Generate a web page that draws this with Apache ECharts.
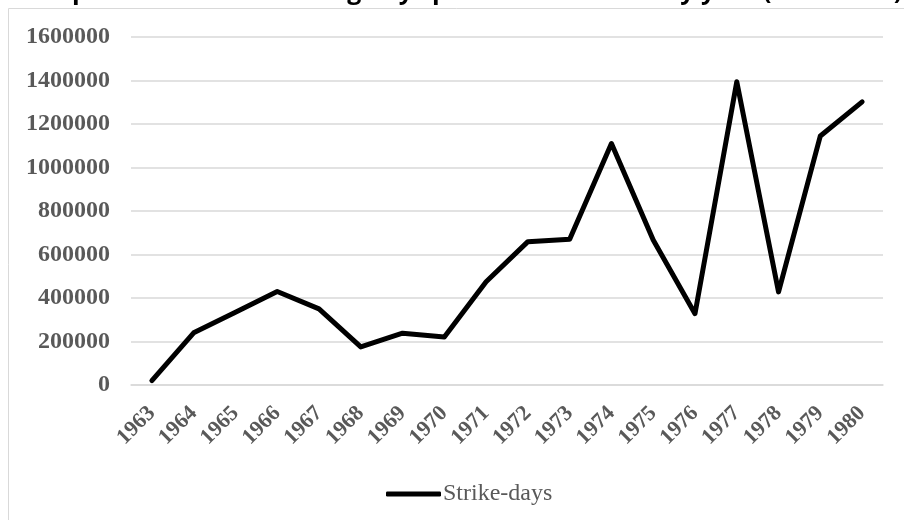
<!DOCTYPE html>
<html lang="en">

<head>
    <meta charset="UTF-8">
    <title>Strike-days</title>
    <script src="https://cdn.jsdelivr.net/npm/echarts@6/dist/echarts.min.js"></script>
    <style>
        html, body {
            margin: 0;
            padding: 0;
            background: #fff;
        }
        #chart {
            width: 904px;
            height: 520px;
        }
    </style>
</head>

<body>
    <div id="chart"></div>

    <script>
        var years = ['1963', '1964', '1965', '1966', '1967', '1968', '1969', '1970', '1971',
            '1972', '1973', '1974', '1975', '1976', '1977', '1978', '1979', '1980'];
        var strikeDays = [20000, 240000, 335000, 430000, 350000, 175000, 238000, 221000, 475000,
            659000, 670000, 1110000, 667000, 328000, 1394000, 428000, 1145000, 1302000];
        var yTicks = [0, 1600000, 200000]; // min, max, interval

        var chart = echarts.init(document.getElementById('chart'));
        chart.setOption({
            animation: false,
            title: {
                text: 'Compiled total lost working days per annum shown by year (1963-1980)',
                left: 16,
                top: -20,
                padding: 0,
                textStyle: {
                    fontFamily: 'Open Sans',
                    fontWeight: 'bold',
                    fontSize: 25,
                    lineHeight: 24,
                    color: '#000'
                }
            },
            graphic: [{
                type: 'rect',
                shape: { x: 8.5, y: 8.5, width: 1000, height: 1000 },
                style: { fill: 'none', stroke: '#d9d9d9', lineWidth: 1 },
                silent: true
            }],
            grid: {
                left: 131,
                right: 21,
                top: 37,
                bottom: 135
            },
            legend: {
                data: ['Strike-days'],
                left: 381,
                top: 477,
                icon: 'roundRect',
                itemWidth: 55,
                itemHeight: 5,
                itemStyle: { color: '#000' },
                textStyle: {
                    fontFamily: 'Liberation Serif',
                    fontSize: 24,
                    color: '#595959',
                    padding: [0, 0, 0, -3]
                }
            },
            xAxis: {
                type: 'category',
                data: years,
                boundaryGap: true,
                axisLine: { lineStyle: { color: '#d9d9d9', width: 1.5 } },
                axisTick: { show: false },
                axisLabel: {
                    rotate: 45,
                    margin: 25,
                    interval: 0,
                    fontFamily: 'Liberation Serif',
                    fontWeight: 'bold',
                    fontSize: 22,
                    color: '#595959'
                }
            },
            yAxis: {
                type: 'value',
                min: yTicks[0],
                max: yTicks[1],
                interval: yTicks[2],
                axisLine: { show: false },
                axisTick: { show: false },
                splitLine: { lineStyle: { color: '#d9d9d9', width: 1.5 } },
                axisLabel: {
                    margin: 21,
                    fontFamily: 'Liberation Serif',
                    fontWeight: 'bold',
                    fontSize: 24,
                    color: '#595959',
                    formatter: function (v) { return String(v); }
                }
            },
            series: [{
                name: 'Strike-days',
                type: 'line',
                data: strikeDays,
                symbol: 'none',
                lineStyle: { color: '#000', width: 5, cap: 'round', join: 'round' },
                itemStyle: { color: '#000' }
            }]
        });
    </script>
</body>

</html>
